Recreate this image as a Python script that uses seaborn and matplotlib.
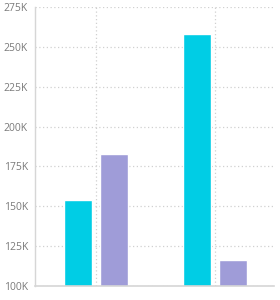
import matplotlib
matplotlib.use("Agg")
import matplotlib.pyplot as plt
import seaborn as sns
import pandas as pd
from matplotlib.ticker import FuncFormatter

categories = ["A", "B"]
series = ["S1", "S2"]
values_s1 = [154000, 258000]
values_s2 = [183000, 116500]
yticks = [100000, 125000, 150000, 175000, 200000, 225000, 250000, 275000]

df = pd.DataFrame({
    "cat": categories * 2,
    "series": [series[0]] * 2 + [series[1]] * 2,
    "value": values_s1 + values_s2,
})

sns.set_style("white")
plt.rcParams["font.family"] = ["Open Sans", "DejaVu Sans"]

fig = plt.figure(figsize=(2.8, 3.0), dpi=100)
ax = fig.add_axes([0.125, 0.0467, 0.854, 0.93])

sns.barplot(data=df, x="cat", y="value", hue="series", order=categories,
            hue_order=series, palette=["#00CDE5", "#9F9CD8"], width=0.61,
            gap=0.22, ax=ax, legend=False, saturation=1)

ax.set_ylim(100000, 275000)
ax.set_xlim(-0.515, 1.5)
ax.set_yticks(yticks)
ax.yaxis.set_major_formatter(FuncFormatter(lambda v, p: f"{int(v/1000)}K"))
ax.set_xticks([0, 1])
ax.set_xticklabels([])
ax.set_xlabel("")
ax.set_ylabel("")
ax.grid(True, axis="both", color="#d0d0d0", linestyle=(0, (1, 2)), linewidth=0.9)
ax.set_axisbelow(True)
for s in ["top", "right"]:
    ax.spines[s].set_visible(False)
ax.spines["left"].set_color("#d6d6d6")
ax.spines["bottom"].set_color("#d6d6d6")
ax.spines["left"].set_linewidth(1)
ax.spines["bottom"].set_linewidth(1.2)
ax.tick_params(axis="y", length=0, pad=5, labelsize=7.5, labelcolor="#7a7a7a")
ax.tick_params(axis="x", length=0)

fig.savefig("out.png", dpi=100)
